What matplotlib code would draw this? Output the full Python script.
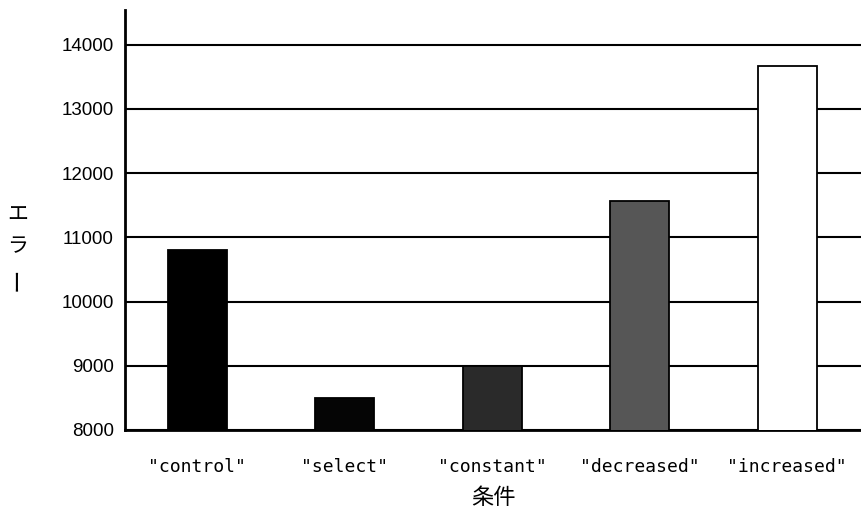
import matplotlib.pyplot as plt

plt.rcParams['font.family'] = ['Liberation Sans', 'Noto Sans CJK JP', 'DejaVu Sans']

# 条件ごとのエラー
conds = ['"control"', '"select"', '"constant"', '"decreased"', '"increased"']
errors = [10800, 8500, 9000, 11570, 13670]
colors = ['#000000', '#050505', '#2a2a2a', '#565656', '#ffffff']
yticks = [8000, 9000, 10000, 11000, 12000, 13000, 14000]

fig = plt.figure(figsize=(8.61, 5.17), dpi=100)
ax = fig.add_axes([125/861, 87/517, 736/861, 420/517])

ax.bar(range(len(conds)), errors, width=0.4, color=colors,
       edgecolor='black', linewidth=1.3, zorder=3)

ax.set_xlim(-0.49, 4.5)
ax.set_ylim(8000, 14540)
ax.set_yticks(yticks)
ax.set_yticklabels([str(v) for v in yticks], fontsize=13.5)
ax.set_xticks(range(len(conds)))
ax.set_xticklabels(conds)
ax.tick_params(axis='x', length=0, pad=20)
ax.tick_params(axis='y', length=0, pad=8)
for lab in ax.get_xticklabels():
    lab.set_fontfamily(['DejaVu Sans Mono', 'DejaVu Sans'])
    lab.set_fontsize(13)

ax.yaxis.grid(True, color='black', linewidth=1.5, zorder=1)
ax.set_axisbelow(True)
for s in ['top', 'right']:
    ax.spines[s].set_visible(False)
ax.spines['left'].set_linewidth(2)
ax.spines['bottom'].set_linewidth(2)

ax.set_xlabel('条件', fontsize=16, labelpad=7,
              fontfamily=['Noto Sans CJK JP', 'DejaVu Sans'])

# 縦書きのラベル
fig.text(18/861, 1 - 215/517, 'エ', fontsize=15, ha='center', va='center',
         fontfamily=['Noto Sans CJK JP'])
fig.text(18/861, 1 - 246/517, 'ラ', fontsize=15, ha='center', va='center',
         fontfamily=['Noto Sans CJK JP'])
fig.text(18/861, 1 - 279/517, 'ー', fontsize=17, ha='center', va='center',
         rotation=90, fontfamily=['Noto Sans CJK JP'])

fig.savefig('out.png', dpi=100, facecolor='white')
